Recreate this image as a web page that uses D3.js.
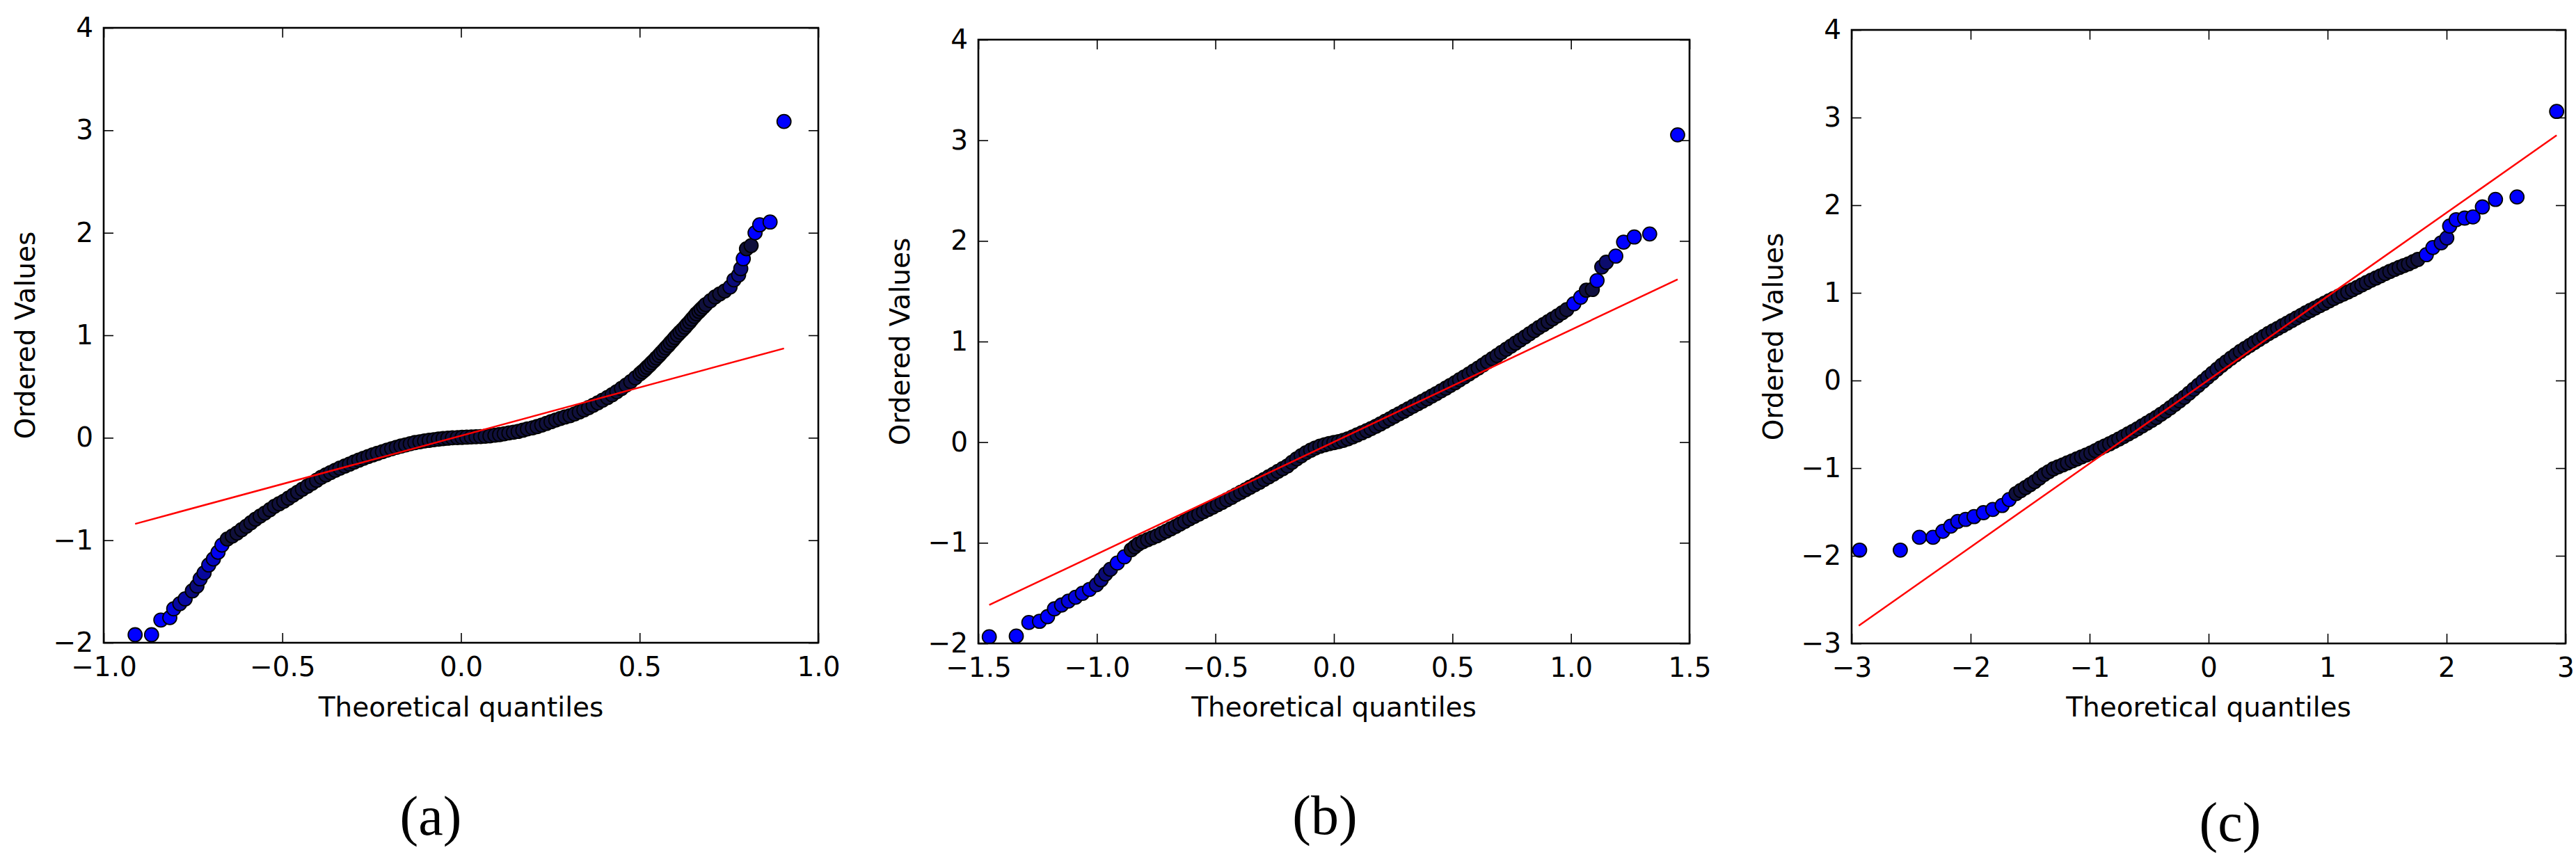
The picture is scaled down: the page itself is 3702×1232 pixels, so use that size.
<!DOCTYPE html>
<html><head><meta charset="utf-8">
<script src="https://cdn.jsdelivr.net/npm/d3@7"></script>
<style>html,body{margin:0;padding:0;background:#fff;} svg{display:block;}</style>
</head><body>
<script>
// ---- DATA ----
// Panel (a): [theoretical quantile, ordered value]
const qqA = [[-0.912,-1.922],[-0.866,-1.922],[-0.840,-1.778],[-0.815,-1.755],[-0.804,-1.669],[-0.787,-1.619],[-0.772,-1.572],[-0.752,-1.494],[-0.739,-1.447],[-0.730,-1.377],[-0.719,-1.319],[-0.706,-1.241],[-0.693,-1.183],[-0.680,-1.117],[-0.669,-1.047],[-0.654,-0.988],[-0.640,-0.959],[-0.627,-0.930],[-0.614,-0.897],[-0.601,-0.864],[-0.588,-0.829],[-0.575,-0.794],[-0.562,-0.764],[-0.549,-0.735],[-0.535,-0.702],[-0.522,-0.669],[-0.509,-0.644],[-0.496,-0.619],[-0.483,-0.590],[-0.470,-0.560],[-0.457,-0.531],[-0.444,-0.502],[-0.430,-0.473],[-0.417,-0.444],[-0.404,-0.415],[-0.391,-0.385],[-0.378,-0.362],[-0.365,-0.339],[-0.352,-0.317],[-0.339,-0.296],[-0.325,-0.276],[-0.312,-0.257],[-0.299,-0.237],[-0.286,-0.218],[-0.273,-0.200],[-0.260,-0.183],[-0.247,-0.167],[-0.234,-0.152],[-0.220,-0.136],[-0.207,-0.121],[-0.194,-0.107],[-0.181,-0.093],[-0.168,-0.081],[-0.155,-0.070],[-0.142,-0.058],[-0.129,-0.047],[-0.115,-0.039],[-0.102,-0.031],[-0.089,-0.025],[-0.076,-0.019],[-0.063,-0.013],[-0.050,-0.008],[-0.037,-0.004],[-0.024,0.000],[-0.010,0.002],[0.003,0.004],[0.016,0.006],[0.029,0.008],[0.042,0.010],[0.055,0.012],[0.068,0.015],[0.081,0.019],[0.095,0.025],[0.108,0.031],[0.121,0.039],[0.134,0.047],[0.147,0.054],[0.160,0.062],[0.173,0.074],[0.186,0.086],[0.200,0.097],[0.213,0.109],[0.226,0.124],[0.239,0.140],[0.252,0.157],[0.265,0.173],[0.278,0.188],[0.291,0.203],[0.305,0.215],[0.318,0.232],[0.331,0.252],[0.344,0.272],[0.357,0.294],[0.370,0.317],[0.383,0.341],[0.396,0.366],[0.410,0.393],[0.423,0.420],[0.436,0.450],[0.449,0.481],[0.462,0.514],[0.475,0.548],[0.488,0.585],[0.501,0.624],[0.508,0.645],[0.515,0.666],[0.521,0.688],[0.528,0.710],[0.534,0.733],[0.541,0.756],[0.547,0.779],[0.554,0.803],[0.560,0.827],[0.567,0.852],[0.573,0.877],[0.580,0.902],[0.586,0.927],[0.593,0.953],[0.599,0.978],[0.606,1.004],[0.613,1.030],[0.620,1.054],[0.627,1.080],[0.633,1.105],[0.640,1.131],[0.646,1.157],[0.653,1.184],[0.659,1.210],[0.666,1.233],[0.672,1.255],[0.679,1.278],[0.685,1.300],[0.698,1.337],[0.711,1.374],[0.724,1.403],[0.738,1.432],[0.753,1.471],[0.764,1.541],[0.777,1.588],[0.783,1.650],[0.790,1.747],[0.799,1.844],[0.812,1.875],[0.823,2.000],[0.836,2.078],[0.865,2.105],[0.904,3.086]];
const fitA = [[-0.912,-0.840],[0.904,0.872]];

// Panel (b)
const qqB = [[-1.454,-1.934],[-1.340,-1.927],[-1.287,-1.792],[-1.242,-1.780],[-1.208,-1.734],[-1.179,-1.656],[-1.149,-1.618],[-1.120,-1.579],[-1.090,-1.541],[-1.061,-1.502],[-1.031,-1.463],[-1.002,-1.417],[-0.982,-1.367],[-0.963,-1.309],[-0.943,-1.263],[-0.914,-1.201],[-0.884,-1.139],[-0.855,-1.069],[-0.840,-1.040],[-0.825,-1.012],[-0.806,-0.990],[-0.786,-0.969],[-0.767,-0.950],[-0.747,-0.931],[-0.727,-0.907],[-0.707,-0.884],[-0.688,-0.861],[-0.668,-0.838],[-0.649,-0.813],[-0.629,-0.788],[-0.609,-0.762],[-0.589,-0.737],[-0.570,-0.714],[-0.550,-0.691],[-0.530,-0.668],[-0.511,-0.645],[-0.491,-0.621],[-0.472,-0.598],[-0.452,-0.573],[-0.432,-0.548],[-0.413,-0.523],[-0.393,-0.498],[-0.373,-0.473],[-0.354,-0.448],[-0.334,-0.423],[-0.314,-0.398],[-0.295,-0.371],[-0.275,-0.344],[-0.255,-0.317],[-0.236,-0.290],[-0.216,-0.263],[-0.196,-0.236],[-0.177,-0.200],[-0.157,-0.165],[-0.138,-0.135],[-0.118,-0.105],[-0.098,-0.080],[-0.079,-0.058],[-0.059,-0.040],[-0.039,-0.026],[-0.020,-0.014],[0.000,-0.004],[0.020,0.006],[0.039,0.018],[0.059,0.033],[0.079,0.052],[0.098,0.072],[0.118,0.093],[0.138,0.114],[0.157,0.135],[0.177,0.158],[0.196,0.181],[0.216,0.207],[0.236,0.232],[0.255,0.257],[0.275,0.282],[0.295,0.307],[0.314,0.332],[0.334,0.357],[0.354,0.382],[0.373,0.407],[0.393,0.432],[0.413,0.458],[0.432,0.483],[0.452,0.510],[0.472,0.537],[0.491,0.564],[0.511,0.591],[0.530,0.620],[0.550,0.649],[0.570,0.678],[0.589,0.707],[0.609,0.737],[0.629,0.768],[0.648,0.799],[0.668,0.830],[0.688,0.861],[0.707,0.892],[0.727,0.923],[0.747,0.954],[0.766,0.985],[0.786,1.015],[0.806,1.046],[0.825,1.077],[0.845,1.108],[0.864,1.139],[0.884,1.168],[0.904,1.197],[0.923,1.226],[0.943,1.255],[0.963,1.286],[0.982,1.317],[1.012,1.375],[1.041,1.440],[1.065,1.510],[1.090,1.517],[1.110,1.606],[1.130,1.741],[1.149,1.788],[1.189,1.849],[1.222,1.988],[1.267,2.039],[1.332,2.069],[1.450,3.054]];
const fitB = [[-1.454,-1.618],[1.450,1.618]];

// Panel (c)
const qqC = [[-2.933,-1.935],[-2.591,-1.935],[-2.430,-1.789],[-2.316,-1.789],[-2.234,-1.721],[-2.167,-1.662],[-2.108,-1.608],[-2.042,-1.585],[-1.971,-1.553],[-1.892,-1.508],[-1.814,-1.471],[-1.735,-1.426],[-1.676,-1.358],[-1.618,-1.290],[-1.579,-1.256],[-1.539,-1.222],[-1.500,-1.188],[-1.461,-1.153],[-1.422,-1.113],[-1.382,-1.072],[-1.343,-1.040],[-1.304,-1.008],[-1.265,-0.985],[-1.225,-0.963],[-1.186,-0.940],[-1.146,-0.917],[-1.107,-0.895],[-1.068,-0.872],[-1.029,-0.850],[-0.989,-0.827],[-0.950,-0.800],[-0.911,-0.772],[-0.872,-0.747],[-0.832,-0.722],[-0.793,-0.695],[-0.754,-0.668],[-0.715,-0.639],[-0.675,-0.609],[-0.636,-0.580],[-0.597,-0.550],[-0.558,-0.518],[-0.518,-0.486],[-0.479,-0.454],[-0.440,-0.422],[-0.401,-0.386],[-0.361,-0.350],[-0.322,-0.311],[-0.283,-0.272],[-0.244,-0.232],[-0.204,-0.191],[-0.165,-0.146],[-0.126,-0.100],[-0.087,-0.055],[-0.047,-0.009],[-0.008,0.037],[0.031,0.082],[0.071,0.128],[0.110,0.173],[0.149,0.214],[0.188,0.254],[0.228,0.293],[0.267,0.332],[0.306,0.366],[0.346,0.400],[0.385,0.434],[0.424,0.468],[0.464,0.502],[0.503,0.536],[0.542,0.566],[0.581,0.595],[0.621,0.625],[0.660,0.654],[0.699,0.684],[0.738,0.713],[0.778,0.743],[0.817,0.772],[0.856,0.800],[0.895,0.827],[0.935,0.854],[0.974,0.881],[1.013,0.909],[1.052,0.936],[1.092,0.961],[1.131,0.985],[1.170,1.010],[1.209,1.035],[1.249,1.063],[1.288,1.090],[1.327,1.117],[1.366,1.144],[1.406,1.169],[1.445,1.194],[1.484,1.219],[1.523,1.244],[1.563,1.267],[1.602,1.290],[1.641,1.311],[1.680,1.331],[1.720,1.356],[1.759,1.381],[1.830,1.435],[1.885,1.517],[1.955,1.571],[2.002,1.626],[2.026,1.762],[2.081,1.835],[2.152,1.853],[2.222,1.866],[2.301,1.980],[2.411,2.066],[2.592,2.094],[2.925,3.070]];
const fitC = [[-2.940,-2.797],[2.925,2.797]];

// Axis ticks and labels
const xTicksA = [-1.0,-0.5,0.0,0.5,1.0];
const xTicksB = [-1.5,-1.0,-0.5,0.0,0.5,1.0,1.5];
const xTicksC = [-3,-2,-1,0,1,2,3];
const yTicksAB = [-2,-1,0,1,2,3,4];
const yTicksC = [-3,-2,-1,0,1,2,3,4];
const xLabel = "Theoretical quantiles";
const yLabel = "Ordered Values";
const subLabels = ["(a)","(b)","(c)"];

// ---- LAYOUT ----
const W = 3702, H = 1232;
const fmt1 = d3.format(".1f"), fmt0 = d3.format("d");
const panels = [
  {data:qqA, fit:fitA, xd:[-1,1], yd:[-2,4], xt:xTicksA, yt:yTicksAB, xf:fmt1, box:{l:149,r:1176,t:40,b:924}, sub:subLabels[0], sx:619, sy:1200},
  {data:qqB, fit:fitB, xd:[-1.5,1.5], yd:[-2,4], xt:xTicksB, yt:yTicksAB, xf:fmt1, box:{l:1406,r:2428,t:57,b:925}, sub:subLabels[1], sx:1904, sy:1199},
  {data:qqC, fit:fitC, xd:[-3,3], yd:[-3,4], xt:xTicksC, yt:yTicksC, xf:fmt0, box:{l:2661,r:3687,t:43,b:925}, sub:subLabels[2], sx:3205, sy:1209}
];
const FONT = "'DejaVu Sans', sans-serif";
const FS = 39;
const R = 10;
// overplotted (dense) markers look dark navy in the reference; isolated ones are pure blue
const denseColor = d3.interpolateRgb("#0000ff", "#10103c");

const svg = d3.select("body").append("svg")
  .attr("width", W).attr("height", H)
  .attr("viewBox", `0 0 ${W} ${H}`);
svg.append("rect").attr("width", W).attr("height", H).attr("fill", "#fff");

panels.forEach((p, i) => {
  const {l, r, t, b} = p.box;
  const x = d3.scaleLinear().domain(p.xd).range([l, r]);
  const y = d3.scaleLinear().domain(p.yd).range([b, t]);
  const g = svg.append("g");

  const clipId = "clip" + i;
  g.append("clipPath").attr("id", clipId)
    .append("rect").attr("x", l).attr("y", t).attr("width", r - l).attr("height", b - t);

  // local spacing between neighbouring markers, in screen pixels
  const pts = p.data.map(d => [x(d[0]), y(d[1])]);
  const gap = pts.map((q, k) => {
    const dPrev = k > 0 ? Math.hypot(q[0] - pts[k-1][0], q[1] - pts[k-1][1]) : Infinity;
    const dNext = k < pts.length - 1 ? Math.hypot(q[0] - pts[k+1][0], q[1] - pts[k+1][1]) : Infinity;
    return Math.min(dPrev, dNext);
  });
  const shade = gp => Math.max(0, Math.min(1, (12 - gp) / 3.5));

  const plot = g.append("g").attr("clip-path", `url(#${clipId})`);
  plot.selectAll("circle").data(p.data).join("circle")
    .attr("cx", d => x(d[0])).attr("cy", d => y(d[1])).attr("r", R)
    .attr("fill", (d, k) => denseColor(shade(gap[k])))
    .attr("stroke", "#000").attr("stroke-width", 1.8);

  plot.append("line")
    .attr("x1", x(p.fit[0][0])).attr("y1", y(p.fit[0][1]))
    .attr("x2", x(p.fit[1][0])).attr("y2", y(p.fit[1][1]))
    .attr("stroke", "#ff0000").attr("stroke-width", 2.5);

  const styleAxis = (sel) => {
    sel.select(".domain").remove();
    sel.selectAll(".tick line").attr("stroke", "#000").attr("stroke-width", 1.6);
    sel.selectAll(".tick text").attr("fill", "#000");
    sel.attr("font-family", FONT).attr("font-size", FS);
  };

  g.append("g").attr("transform", `translate(0,${b})`)
    .call(d3.axisBottom(x).tickValues(p.xt).tickFormat(p.xf).tickSizeInner(-14).tickSizeOuter(0).tickPadding(20))
    .call(styleAxis);
  g.append("g").attr("transform", `translate(0,${t})`)
    .call(d3.axisTop(x).tickValues(p.xt).tickFormat(() => "").tickSizeInner(-14).tickSizeOuter(0))
    .call(styleAxis);
  g.append("g").attr("transform", `translate(${l},0)`)
    .call(d3.axisLeft(y).tickValues(p.yt).tickFormat(fmt0).tickSizeInner(-14).tickSizeOuter(0).tickPadding(15))
    .call(styleAxis);
  g.append("g").attr("transform", `translate(${r},0)`)
    .call(d3.axisRight(y).tickValues(p.yt).tickFormat(() => "").tickSizeInner(-14).tickSizeOuter(0))
    .call(styleAxis);

  g.append("rect").attr("x", l).attr("y", t).attr("width", r - l).attr("height", b - t)
    .attr("fill", "none").attr("stroke", "#000").attr("stroke-width", 2.6);

  g.append("text").attr("x", (l + r) / 2).attr("y", 1030)
    .attr("text-anchor", "middle").attr("font-family", FONT).attr("font-size", FS)
    .attr("fill", "#000").text(xLabel);

  g.append("text").attr("transform", `translate(${l - 99},${(t + b) / 2}) rotate(-90)`)
    .attr("text-anchor", "middle").attr("font-family", FONT).attr("font-size", FS)
    .attr("fill", "#000").text(yLabel);

  g.append("text").attr("x", p.sx).attr("y", p.sy)
    .attr("text-anchor", "middle").attr("font-family", "'Liberation Serif', 'DejaVu Serif', serif")
    .attr("font-size", 80).attr("fill", "#000").text(p.sub);
});
</script>
</body></html>
